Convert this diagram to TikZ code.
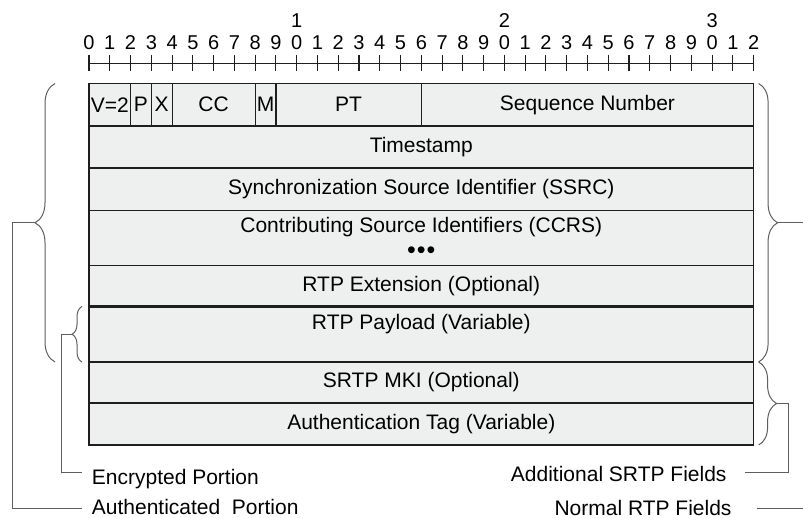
\documentclass[tikz,border=0pt]{standalone}
\usepackage{fontspec}
\setmainfont{Liberation Sans}
\usetikzlibrary{decorations.pathreplacing,calc}

\definecolor{cellfill}{RGB}{238,239,239}
\definecolor{ruleink}{RGB}{30,30,30}
\definecolor{braceink}{RGB}{95,95,95}

\newcommand\fieldfont{\fontsize{21}{24}\selectfont}
\newcommand\bitfont{\fontsize{20}{23}\selectfont}

\begin{document}
\begin{tikzpicture}[x=1pt,y=-1pt,
  field/.style={draw=ruleink, fill=cellfill, line width=1.1pt,
    inner sep=0pt, outer sep=0pt, font=\fieldfont, anchor=north west},
  fieldtext/.style={inner sep=0pt, font=\fieldfont},
  heavyline/.style={draw=ruleink, line width=2.2pt},
  midline/.style={draw=ruleink, line width=1.6pt},
  tick/.style={draw=ruleink, line width=1.1pt},
  bitnum/.style={inner sep=0pt, font=\bitfont, anchor=base},
  bracepath/.style={draw=braceink, line width=1pt, decorate},
  conn/.style={draw=braceink, line width=1pt},
  note/.style={inner sep=0pt, font=\fieldfont}]

% canvas
\fill[white] (0,0) rectangle (803,518);
\useasboundingbox (0,0) rectangle (803,518);

% bit ruler
\draw[tick] (89,63.3) -- (753.6,63.3);
\foreach \i in {0,...,32} {
  \draw[tick] ({89+20.77*\i},55.3) -- ({89+20.77*\i},71);
  \pgfmathtruncatemacro\ones{mod(\i,10)}
  \node[bitnum] (bit\i) at ({89+20.77*\i},49.5) {\ones};
}
\foreach \i/\t in {10/1,20/2,30/3}
  \node[bitnum] (tens\i) at ({89+20.77*\i},27.5) {\t};

% first word of the fixed header
\node[field, minimum width=41.5pt,  minimum height=42.5pt] (ver)  at (89,83.5)    {V=2};
\node[field, minimum width=20.8pt,  minimum height=42.5pt] (pad)  at (130.5,83.5) {P};
\node[field, minimum width=20.8pt,  minimum height=42.5pt] (xbit) at (151.3,83.5) {X};
\node[field, minimum width=83.1pt,  minimum height=42.5pt] (cc)   at (172.1,83.5) {CC};
\node[field, minimum width=20.7pt,  minimum height=42.5pt] (mk)   at (255.2,83.5) {M};
\node[field, minimum width=145.4pt, minimum height=42.5pt] (pt)   at (275.9,83.5) {PT};
\node[field, minimum width=332.3pt, minimum height=42.5pt] (seq)  at (421.3,83.5) {Sequence Number};

% remaining words
\node[field, minimum width=664.6pt, minimum height=42pt]   (ts)   at (89,126)   {Timestamp};
\node[field, minimum width=664.6pt, minimum height=42.5pt] (ssrc) at (89,168)   {Synchronization Source Identifier (SSRC)};
\node[field, minimum width=664.6pt, minimum height=55pt]   (csrc) at (89,210.5) {};
\node[fieldtext] (csrclbl) at (421.3,227) {Contributing Source Identifiers (CCRS)};
\node[inner sep=0pt, font=\fontsize{25}{26}\selectfont] (csrcdots) at (421.3,252.5)
  {\textbullet\kern1pt\textbullet\kern1pt\textbullet};
\node[field, minimum width=664.6pt, minimum height=41pt]   (rtpx) at (89,265.5) {RTP Extension (Optional)};
\node[field, minimum width=664.6pt, minimum height=55.5pt] (pay)  at (89,306.5) {};
\node[fieldtext] (paylbl) at (421.3,324) {RTP Payload (Variable)};
\node[field, minimum width=664.6pt, minimum height=41pt]   (mki)  at (89,362)   {SRTP MKI (Optional)};
\node[field, minimum width=664.6pt, minimum height=42pt]   (tag)  at (89,403)   {Authentication Tag (Variable)};

% emphasised separators
\draw[midline] (rtpx.north west) -- (rtpx.north east);
\draw[heavyline] (pay.north west) -- (pay.north east);
\draw[heavyline] (mk.north east) -- (mk.south east);

% braces
\draw[bracepath, decoration={brace, amplitude=20pt}]
  ([xshift=-34pt]pay.south west) -- ([xshift=-34pt]ver.north west);
\draw[bracepath, decoration={brace, amplitude=10pt}]
  ([xshift=-7pt]pay.south west) -- ([xshift=-7pt]pay.north west);
\draw[bracepath, decoration={brace, amplitude=19pt}]
  ([xshift=5pt]seq.north east) -- ([xshift=5pt]pay.south east);
\draw[bracepath, decoration={brace, amplitude=18pt}]
  ([xshift=5pt]mki.north east) -- ([xshift=5pt]tag.south east);

% brace tips
\coordinate (authtip) at ([xshift=-54pt]$(ver.north west)!0.5!(pay.south west)$);
\coordinate (enctip)  at ([xshift=-17pt]$(pay.north west)!0.5!(pay.south west)$);
\coordinate (normtip) at ([xshift=24pt]$(seq.north east)!0.5!(pay.south east)$);
\coordinate (addtip)  at ([xshift=23pt]$(mki.north east)!0.5!(tag.south east)$);

% legend texts
\node[note, anchor=base west] (authlbl) at (91.7,514.5) {Authenticated\ \ Portion};
\node[note, anchor=base west] (enclbl)  at (91.7,484.3) {Encrypted Portion};
\node[note, anchor=base east] (addlbl)  at (726.7,481) {Additional SRTP Fields};
\node[note, anchor=base east] (normlbl) at (731.7,515) {Normal RTP Fields};

% leaders from braces to legend texts
\draw[conn] (authtip) -- ++(-22.3,0) |- ([xshift=-10pt,yshift=6.2pt]authlbl.base west);
\draw[conn] (enctip)  -- ++(-10.3,0) |- ([xshift=-10pt,yshift=12pt]enclbl.base west);
\draw[conn] (addtip)  -- ++(11.7,0)  |- ([xshift=18.3pt,yshift=8.3pt]addlbl.base east);
\draw[conn] (normtip) -- ++(27,0)    |- ([xshift=25pt,yshift=6.7pt]normlbl.base east);

\end{tikzpicture}
\end{document}
